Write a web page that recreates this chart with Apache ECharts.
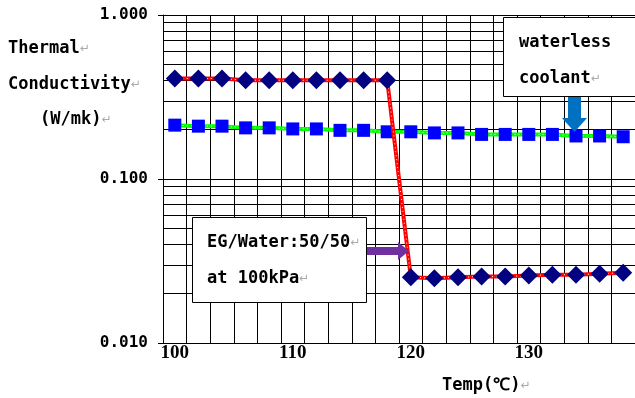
<!DOCTYPE html>
<html>
<head>
<meta charset="utf-8">
<script src="https://cdn.jsdelivr.net/npm/echarts@6/dist/echarts.min.js"></script>
<style>
html, body { margin: 0; padding: 0; background: #fff; }
#chart { width: 635px; height: 398px; }
</style>
</head>
<body>
<div id="chart"></div>
<script>
// temperatures on the category axis
var temps = ['100', '102', '104', '106', '108', '110', '112', '114', '116', '118',
             '120', '122', '124', '126', '128', '130', '132', '134', '136', '138'];

// EG/Water 50/50 at 100kPa (diamonds, red line)
var egWater = [0.41, 0.41, 0.41, 0.40, 0.40, 0.40, 0.40, 0.40, 0.40, 0.40,
               0.0252, 0.0248, 0.0252, 0.0254, 0.0254, 0.0258, 0.0261, 0.0261, 0.0264, 0.0268];

// waterless coolant (squares, green line)
var waterless = [0.213, 0.210, 0.210, 0.205, 0.205, 0.202, 0.202, 0.198, 0.198, 0.194,
                 0.194, 0.191, 0.191, 0.187, 0.187, 0.187, 0.187, 0.183, 0.183, 0.181];

// minor gridlines of the log axis
var minorLines = [0.02, 0.03, 0.04, 0.05, 0.06, 0.07, 0.08, 0.09,
                  0.2, 0.3, 0.4, 0.5, 0.6, 0.7, 0.8, 0.9];

var txtFont = 'bold 17px "DejaVu Sans Mono"';

function note(x, y, txt, mark) {
    return {
        type: 'text', x: x, y: y, z: 100,
        style: {
            text: '{t|' + txt + '}' + (mark ? '{r|\u21b5}' : ''),
            verticalAlign: 'middle',
            rich: {
                t: { font: txtFont, fill: '#000' },
                r: { font: '12px "DejaVu Sans"', fill: '#aaa' }
            }
        }
    };
}

// white dots drawn over a coloured line, like the original's dotted pattern
function dots(data, z) {
    return {
        type: 'line', data: data, z: z, silent: true,
        symbol: 'none',
        lineStyle: { color: '#fff', width: 1, type: [1, 3] }
    };
}

var chart = echarts.init(document.getElementById('chart'));

var option = {
    animation: false,
    grid: { left: 163, right: -2, top: 15, bottom: 55 },
    xAxis: {
        type: 'category',
        data: temps,
        boundaryGap: true,
        axisLine: { lineStyle: { color: '#000', width: 1 } },
        axisTick: { show: false },
        axisLabel: {
            interval: 4,
            margin: 1,
            color: '#000',
            fontFamily: 'Liberation Serif',
            fontWeight: 'bold',
            fontSize: 19
        },
        splitLine: { show: true, interval: 0, lineStyle: { color: '#000', width: 1 } }
    },
    yAxis: {
        type: 'log',
        logBase: 10,
        min: 0.01,
        max: 1,
        axisLine: { show: true, lineStyle: { color: '#000', width: 1 } },
        axisTick: { show: true, length: 5, lineStyle: { color: '#000' } },
        axisLabel: {
            margin: 15,
            color: '#000',
            fontFamily: 'DejaVu Sans Mono',
            fontWeight: 'bold',
            fontSize: 16,
            formatter: function (v) { return v.toFixed(3); }
        },
        splitLine: { show: true, lineStyle: { color: '#000', width: 1 } }
    },
    series: [{
        name: 'waterless coolant',
        type: 'line',
        data: waterless,
        z: 2,
        showAllSymbol: true,
        symbol: 'rect',
        symbolSize: 13,
        itemStyle: { color: '#0000ff' },
        lineStyle: { color: '#00ff00', width: 4 },
        markLine: {
            z: 1,
            silent: true,
            symbol: 'none',
            label: { show: false },
            lineStyle: { color: '#000', type: 'solid', width: 1 },
            data: minorLines.map(function (v) { return { yAxis: v }; })
        }
    },
    dots(waterless, 2),
    {
        name: 'EG/Water:50/50',
        type: 'line',
        data: egWater,
        z: 3,
        showAllSymbol: true,
        symbol: 'diamond',
        symbolSize: 18,
        itemStyle: { color: '#000080' },
        lineStyle: { color: '#ff0000', width: 4 }
    },
    dots(egWater, 3)],
    graphic: [
        note(8, 49, 'Thermal', true),
        note(8, 85, 'Conductivity', true),
        note(40, 120, '(W/mk)', true),
        note(442, 386, 'Temp(\u2103)', true),
        {
            type: 'rect', z: 90,
            shape: { x: 503.5, y: 17.5, width: 140, height: 79 },
            style: { fill: '#fff', stroke: '#000', lineWidth: 1 }
        },
        note(519, 43, 'waterless', false),
        note(519, 79, 'coolant', true),
        {
            type: 'polygon', z: 90,
            shape: { points: [[568, 97], [581, 97], [581, 118], [587, 118], [574.5, 132], [562, 118], [568, 118]] },
            style: { fill: '#0070c0' }
        },
        {
            type: 'rect', z: 90,
            shape: { x: 192.5, y: 217.5, width: 174, height: 85 },
            style: { fill: '#fff', stroke: '#000', lineWidth: 1 }
        },
        note(207, 243, 'EG/Water:50/50', true),
        note(207, 279, 'at 100kPa', true),
        {
            type: 'polygon', z: 90,
            shape: { points: [[367, 247], [398, 247], [398, 242], [409, 251], [398, 260], [398, 255], [367, 255]] },
            style: { fill: '#7030a0' }
        }
    ]
};

option && chart.setOption(option);
window.addEventListener('resize', chart.resize);
</script>
</body>
</html>
